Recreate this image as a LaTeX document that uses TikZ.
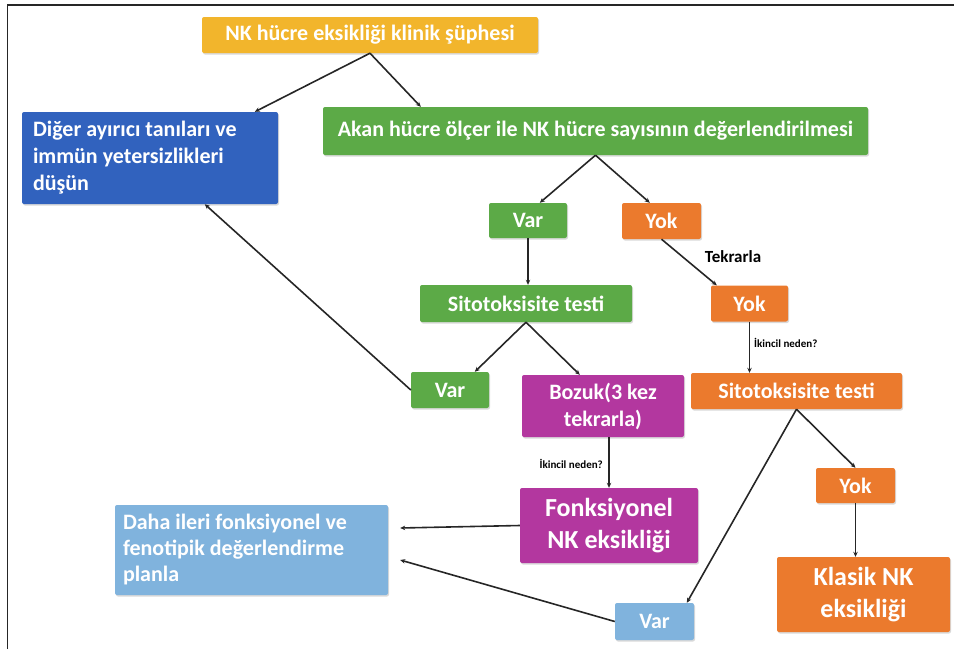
\documentclass[tikz,border=0pt]{standalone}
\usepackage{fontspec}
\setmainfont{Carlito}
\usetikzlibrary{arrows.meta,calc,shadows}

\definecolor{cgold}{HTML}{F2B52C}
\definecolor{cblue}{HTML}{3162BE}
\definecolor{cgreen}{HTML}{5CAA47}
\definecolor{corange}{HTML}{EB7A2D}
\definecolor{cmagenta}{HTML}{B3379F}
\definecolor{clight}{HTML}{80B3DD}
\definecolor{cline}{HTML}{262626}

\tikzset{
  box/.style={rectangle, rounded corners=2pt, text=white, inner sep=0pt,
    align=center, font={\fontsize{22}{27}\selectfont\bfseries},
    drop shadow={shadow xshift=1pt, shadow yshift=-1.5pt, opacity=0.3}},
  bigtext/.style={font={\fontsize{26}{32}\selectfont\bfseries}},
  note/.style={inner sep=0pt, text=black, font={\fontsize{11}{13}\selectfont\bfseries}},
  link/.style={draw=cline, line width=1.6pt, -{Stealth[length=5pt,width=4.5pt]}}
}

\begin{document}
\begin{tikzpicture}[x=1pt,y=-1pt]
\useasboundingbox (0,0) rectangle (954,649);

% page frame (top and left rules only)
\draw[cline, line width=1.4pt] (7.5,649) -- (7.5,5) -- (954,5);

% boxes
\node[box, fill=cgold, minimum width=336pt, minimum height=36pt] (yel) at (370,35)
  {NK hücre eksikliği klinik şüphesi};
\node[box, fill=cblue, minimum width=256pt, minimum height=92pt, align=flush left,
  text width=234pt] (dif) at (150,158)
  {Diğer ayırıcı tanıları ve\\immün yetersizlikleri\\düşün};
\node[box, fill=cgreen, minimum width=545pt, minimum height=48pt] (flow) at (595.5,131)
  {Akan hücre ölçer ile NK hücre sayısının değerlendirilmesi};

\node[box, fill=cgreen, minimum width=78pt, minimum height=35pt] (var1) at (528,220.5) {Var};
\node[box, fill=corange, minimum width=79pt, minimum height=36pt] (yok1) at (661.5,221) {Yok};

\node[box, fill=cgreen, minimum width=212pt, minimum height=37pt] (sit1) at (526,303.5)
  {Sitotoksisite testi};
\node[box, fill=corange, minimum width=77pt, minimum height=36pt] (yok2) at (749.5,303.5) {Yok};

\node[box, fill=cgreen, minimum width=78pt, minimum height=36pt] (var2) at (450,390) {Var};
\node[box, fill=cmagenta, minimum width=162pt, minimum height=62pt] (bozuk) at (603,406)
  {Bozuk(3 kez\\tekrarla)};
\node[box, fill=corange, minimum width=211pt, minimum height=36pt] (sit2) at (796.5,391)
  {Sitotoksisite testi};

\node[box, bigtext, fill=cmagenta, minimum width=178pt, minimum height=75pt] (fonk) at (609,525.5)
  {Fonksiyonel\\NK eksikliği};
\node[box, fill=clight, minimum width=273pt, minimum height=90pt, align=flush left,
  text width=257pt, font={\fontsize{22}{26}\selectfont\bfseries}] (daha) at (251.5,550)
  {Daha ileri fonksiyonel ve\\fenotipik değerlendirme\\planla};

\node[box, fill=corange, minimum width=79pt, minimum height=35pt] (yok3) at (855.5,485.5) {Yok};
\node[box, bigtext, fill=corange, minimum width=173pt, minimum height=75pt] (klasik) at (863.5,594.5)
  {Klasik NK\\eksikliği};
\node[box, fill=clight, minimum width=79pt, minimum height=37pt] (var3) at (654.5,621.5) {Var};

% free ends on box edges
\coordinate (difTop) at ($(dif.north west)+(233,0)$);
\coordinate (flowTop) at ($(flow.north west)+(98,0)$);
\coordinate (var1Top) at ($(var1.north west)+(51,0)$);
\coordinate (yok1Top) at ($(yok1.north west)+(28,0)$);
\coordinate (yok2Top) at ($(yok2.north west)+(6,0)$);
\coordinate (var2Top) at ($(var2.north west)+(64,0)$);
\coordinate (bozukTop) at ($(bozuk.north west)+(58,0)$);
\coordinate (difBot) at ($(dif.south west)+(183,0)$);
\coordinate (var3Top) at ($(var3.north west)+(72,0)$);
\coordinate (dahaA) at ($(daha.east)+(12,-22)$);
\coordinate (dahaB) at ($(daha.east)+(12,10)$);

% connectors
\draw[link] (yel.south) -- (difTop);
\draw[link] (yel.south) -- (flowTop);
\draw[link] (flow.south) -- (var1Top);
\draw[link] (flow.south) -- (yok1Top);
\draw[link] (var1.south) -- (var1.south |- sit1.north);
\draw[link] (yok1.south) -- (yok2Top);
\draw[link] (yok2.south) -- (yok2.south |- sit2.north);
\draw[link] (sit1.south) -- (var2Top);
\draw[link] (sit1.south) -- (bozukTop);
\draw[link] (var2.west) -- (difBot);
\draw[link] (fonk.north |- bozuk.south) -- (fonk.north);
\draw[link] (fonk.west) -- (dahaA);
\draw[link] (var3.west) -- (dahaB);
\draw[link] (sit2.south) -- (var3Top);
\draw[link] (sit2.south) -- (yok3.north);
\draw[link] (yok3.south) -- (yok3.south |- klasik.north);

% edge labels
\node[note, font={\fontsize{17}{20}\selectfont\bfseries}] (tek) at (733,257) {Tekrarla};
\node[note, anchor=west] (ik1) at (754,343) {İkincil neden?};
\node[note, anchor=east] (ik2) at (603,464) {İkincil neden?};
\end{tikzpicture}
\end{document}
